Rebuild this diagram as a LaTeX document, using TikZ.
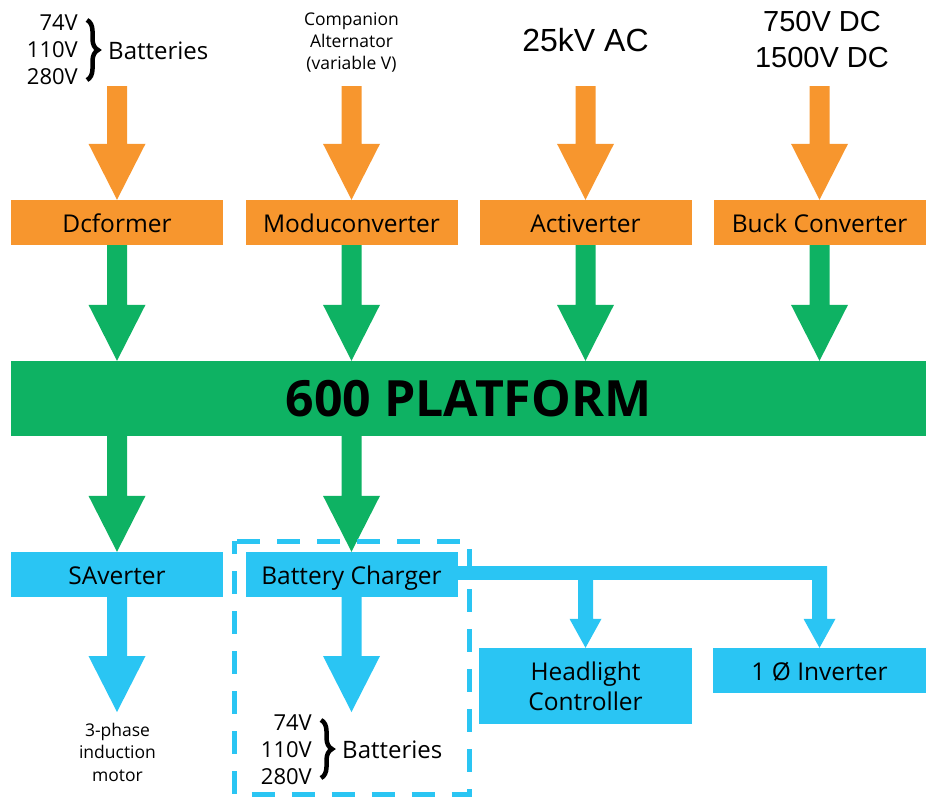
\documentclass[tikz,border=0pt]{standalone}
\usepackage{fontspec}
\setmainfont{Open Sans}
\newfontfamily\arialf{Liberation Sans}
\usetikzlibrary{calc,decorations.pathreplacing}
\definecolor{cor}{HTML}{F7962E}
\definecolor{cgr}{HTML}{0EB263}
\definecolor{cbl}{HTML}{2AC5F3}
\newcommand\barrow[3]{\fill[#1] let \p1=(#2), \p2=(#3) in
  (\x1-10pt,\y1) -- (\x1+10pt,\y1) -- (\x1+10pt,\y2+56pt) -- (\x1+28.5pt,\y2+56pt)
  -- (\x1,\y2) -- (\x1-28.5pt,\y2+56pt) -- (\x1-10pt,\y2+56pt) -- cycle;}
\newcommand\sarrow[3]{\fill[#1] let \p1=(#2), \p2=(#3) in
  (\x1-7.5pt,\y1) -- (\x1+7.5pt,\y1) -- (\x1+7.5pt,\y2+29pt) -- (\x1+16pt,\y2+29pt)
  -- (\x1,\y2) -- (\x1-16pt,\y2+29pt) -- (\x1-7.5pt,\y2+29pt) -- cycle;}
\begin{document}
\begin{tikzpicture}[x=1pt,y=-1pt,
  box/.style={rectangle, inner sep=0pt, minimum width=212pt, minimum height=45pt,
    font=\fontsize{24.5}{30}\selectfont, align=center},
  onel/.style={text height=20.5pt, text depth=0pt},
  obox/.style={box, onel, fill=cor},
  bbox/.style={box, onel, fill=cbl},
  small/.style={font=\fontsize{17.5}{22}\selectfont, align=center, inner sep=0pt},
  volts/.style={font=\fontsize{22}{27}\selectfont, align=right, inner sep=0pt, anchor=east},
  batt/.style={font=\fontsize{24}{27}\selectfont, inner sep=0pt, anchor=west},
  brc/.style={decorate, decoration={brace, amplitude=11pt}, line width=4.5pt}]
\useasboundingbox (0,0) rectangle (933,798);
% sources
\node[volts] (v1) at (78,50) {74V\\110V\\280V};
\draw[brc] (87,20) -- (87,80);
\node[batt] (b1) at (108,51) {Batteries};
\node[small] (ca) at (351.5,42) {Companion\\Alternator\\(variable V)};
\node[font=\arialf\fontsize{32}{36}\selectfont, inner sep=0pt] (ac25) at (585.5,40) {25kV AC};
\node[font=\arialf\fontsize{29}{36}\selectfont, align=center, inner sep=0pt] (dcv) at (822,40) {750V DC\\1500V DC};
\coordinate (s1) at (117,86);
\coordinate (s2) at (351.5,86);
\coordinate (s3) at (585.5,86);
\coordinate (s4) at (819.5,86);
% converters
\node[obox] (dc) at (117,222.5) {Dcformer};
\node[obox] (mc) at (351.5,222.5) {Moduconverter};
\node[obox] (av) at (585.5,222.5) {Activerter};
\node[obox] (bk) at (819.5,222.5) {Buck Converter};
% platform
\node[rectangle, fill=cgr, inner sep=0pt, minimum width=915pt, minimum height=75pt,
  font=\bfseries\fontsize{50}{56}\selectfont] (pf) at (468.5,398.5) {600 PLATFORM};
% outputs
\node[bbox] (sa) at (117,574.5) {SAverter};
\node[bbox] (bc) at (351.5,574.5) {Battery Charger};
\node[box, fill=cbl, minimum width=213pt, minimum height=76pt,
  font=\fontsize{24.5}{30}\selectfont] (hl) at (585.5,686) {Headlight\\Controller};
\node[bbox, minimum width=213pt] (inv) at (819.5,670.5) {1 Ø Inverter};
\node[small, font=\fontsize{17.5}{22.5}\selectfont] (mot) at (117.5,752) {3-phase\\induction\\motor};
\node[volts] (v2) at (312,750) {74V\\110V\\280V};
\draw[brc] (321,720) -- (321,778);
\node[batt] (b2) at (342,750) {Batteries};
\coordinate (t1) at (117,712);
\coordinate (t2) at (351.5,712);
% arrows
\barrow{cor}{s1}{dc.north}
\barrow{cor}{s2}{mc.north}
\barrow{cor}{s3}{av.north}
\barrow{cor}{s4}{bk.north}
\barrow{cgr}{dc.south}{dc.south |- pf.north}
\barrow{cgr}{mc.south}{mc.south |- pf.north}
\barrow{cgr}{av.south}{av.south |- pf.north}
\barrow{cgr}{bk.south}{bk.south |- pf.north}
\barrow{cgr}{sa.north |- pf.south}{sa.north}
\barrow{cgr}{bc.north |- pf.south}{bc.north}
\barrow{cbl}{sa.south}{t1}
\barrow{cbl}{bc.south}{t2}
% branch
\coordinate (j1) at (585.5,566);
\coordinate (j2) at (819.5,566);
\draw[cbl, line width=14pt] (458,573) -- (827,573);
\sarrow{cbl}{j1}{hl.north}
\sarrow{cbl}{j2}{inv.north}
% dashed group
\draw[cbl, line width=5pt, dash pattern=on 23pt off 17pt, dash phase=10pt] (234.5,541) rectangle (469,794);
\end{tikzpicture}
\end{document}
